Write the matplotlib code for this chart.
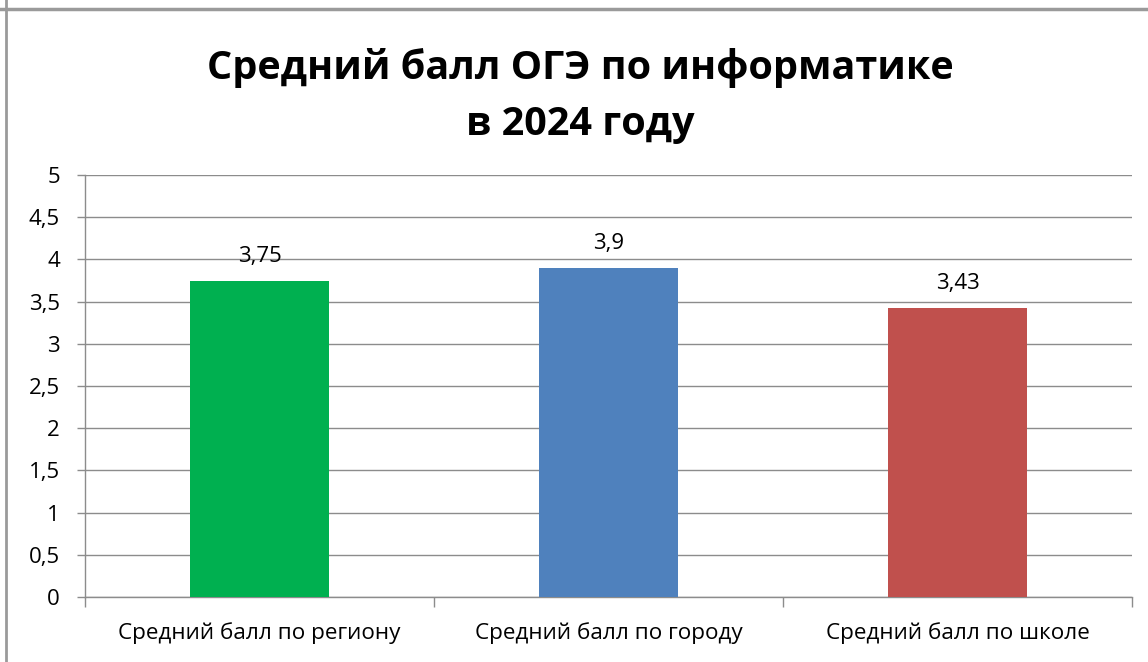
import matplotlib.pyplot as plt
from matplotlib.lines import Line2D
from matplotlib.ticker import FuncFormatter, MultipleLocator, FixedLocator

categories = ["Средний балл по региону", "Средний балл по городу", "Средний балл по школе"]
values = [3.75, 3.9, 3.43]
labels = ["3,75", "3,9", "3,43"]
colors = ["#00B050", "#4F81BD", "#C0504D"]
title = "Средний балл ОГЭ по информатике\nв 2024 году"

plt.rcParams["font.family"] = ["Open Sans", "DejaVu Sans"]

fig = plt.figure(figsize=(11.48, 6.62), dpi=100)
ax = fig.add_axes([85 / 1148, 65 / 662, 1047 / 1148, 422 / 662])

x = list(range(len(categories)))
ax.bar(x, values, width=0.4, color=colors, zorder=3)
for xi, v, lab in zip(x, values, labels):
    ax.annotate(lab, (xi, v), xytext=(0, 10), textcoords="offset points",
                ha="center", va="bottom", fontsize=16, color="black")

ax.set_xlim(-0.5, 2.5)
ax.set_ylim(0, 5)
ax.yaxis.set_major_locator(MultipleLocator(0.5))
ax.yaxis.set_major_formatter(FuncFormatter(lambda v, p: f"{v:g}".replace(".", ",")))
ax.grid(axis="y", color="#8c8c8c", linewidth=1, zorder=0)

ax.set_xticks(x)
ax.set_xticklabels(categories, fontsize=16.2)
ax.tick_params(axis="x", length=0, pad=18)
ax.xaxis.set_minor_locator(FixedLocator([-0.5, 0.5, 1.5, 2.5]))
ax.tick_params(axis="x", which="minor", length=7, color="#8c8c8c", width=1)
ax.tick_params(axis="y", length=6, color="#8c8c8c", width=1, labelsize=16, pad=12)

for s in ["top", "right"]:
    ax.spines[s].set_visible(False)
for s in ["left", "bottom"]:
    ax.spines[s].set_color("#8c8c8c")
    ax.spines[s].set_linewidth(1)

fig.text(0.5 + 6 / 1148, 1 - 96 / 662, title, ha="center", va="center", fontsize=28.5,
         fontweight="bold", linespacing=1.6)

# outer frame lines
fig.add_artist(Line2D([0, 1], [1 - 9 / 662, 1 - 9 / 662], color="#9a9a9a", linewidth=2.5))
fig.add_artist(Line2D([6 / 1148, 6 / 1148], [0, 1], color="#9a9a9a", linewidth=2))

fig.savefig("out.png", dpi=100)
